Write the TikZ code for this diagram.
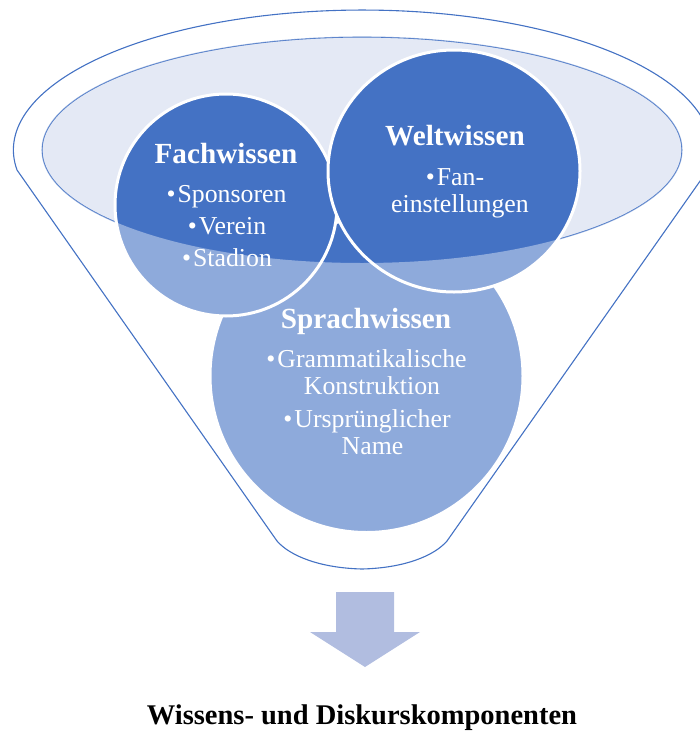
\documentclass[tikz,border=0pt]{standalone}
\usepackage{fontspec}
\setmainfont{Liberation Serif}
\definecolor{accent}{HTML}{4472C4}
\definecolor{rimfill}{HTML}{E4E9F5}
\definecolor{arrowfill}{HTML}{B1BDE0}
\begin{document}
\begin{tikzpicture}[x=1pt,y=-1pt,
  head/.style={font=\fontsize{29.2}{32}\selectfont\bfseries, text=white, anchor=base, inner sep=0pt},
  body/.style={font=\fontsize{25.8}{28}\selectfont, text=white, anchor=base, inner sep=0pt},
  bubble/.style={fill=accent, draw=white, line width=3pt},
  rim/.style={draw=accent, line width=1.1pt},
  arrowshape/.style={fill=arrowfill, draw=none},
  caption/.style={font=\fontsize{28.5}{30}\selectfont\bfseries, text=black, anchor=base, inner sep=0pt}
]
\useasboundingbox (0,0) rectangle (700,736);
\clip (0,0) rectangle (700,736);

% inner rim ellipse
\path[rim, fill=rimfill] (362,150) ellipse [x radius=320pt, y radius=113pt];

% circles
\path[bubble] (366.5,376) circle [radius=156.5pt];
\path[bubble] (226,205) circle [radius=111pt];
\path[bubble] (454,171) ellipse [x radius=126pt, y radius=121pt];

% translucent funnel body
\fill[white, fill opacity=0.4, even odd rule]
  (17,170) arc[start angle=188.2, end angle=-8.2, x radius=349pt, y radius=140pt]
  -- (447,541) .. controls (434,556) and (404,568) .. (362,569)
  .. controls (320,568) and (290,556) .. (277,541) -- cycle
  (362,150) ellipse [x radius=320pt, y radius=113pt];

% funnel outline
\draw[rim]
  (17,170) arc[start angle=188.2, end angle=-8.2, x radius=349pt, y radius=140pt]
  -- (447,541) .. controls (434,556) and (404,568) .. (362,569)
  .. controls (320,568) and (290,556) .. (277,541) -- cycle;

% texts
\node[head] (fach) at (226,163) {Fachwissen};
\node[body] (f1) at (226.5,202.5) {•\hspace{2pt}Sponsoren};
\node[body] (f2) at (227,234.5) {•\hspace{2pt}Verein};
\node[body] (f3) at (227,266.5) {•\hspace{2pt}Stadion};

\node[head] (welt) at (455,145) {Weltwissen};
\node[body] (w1) at (455,185) {•\hspace{2pt}Fan-};
\node[body] (w2) at (460,212) {einstellungen};

\node[head] (sprach) at (366,328) {Sprachwissen};
\node[body] (s1) at (366.5,367) {•\hspace{2pt}Grammatikalische};
\node[body] (s2) at (372,394) {Konstruktion};
\node[body] (s3) at (367,427) {•\hspace{2pt}Ursprünglicher};
\node[body] (s4) at (372.5,454) {Name};

% arrow
\path[arrowshape] (336,592) -- (394,592) -- (394,632) -- (420,632) -- (365,667) -- (310,632) -- (336,632) -- cycle;

\node[caption] (title) at (362,724) {Wissens- und Diskurskomponenten};
\end{tikzpicture}
\end{document}
